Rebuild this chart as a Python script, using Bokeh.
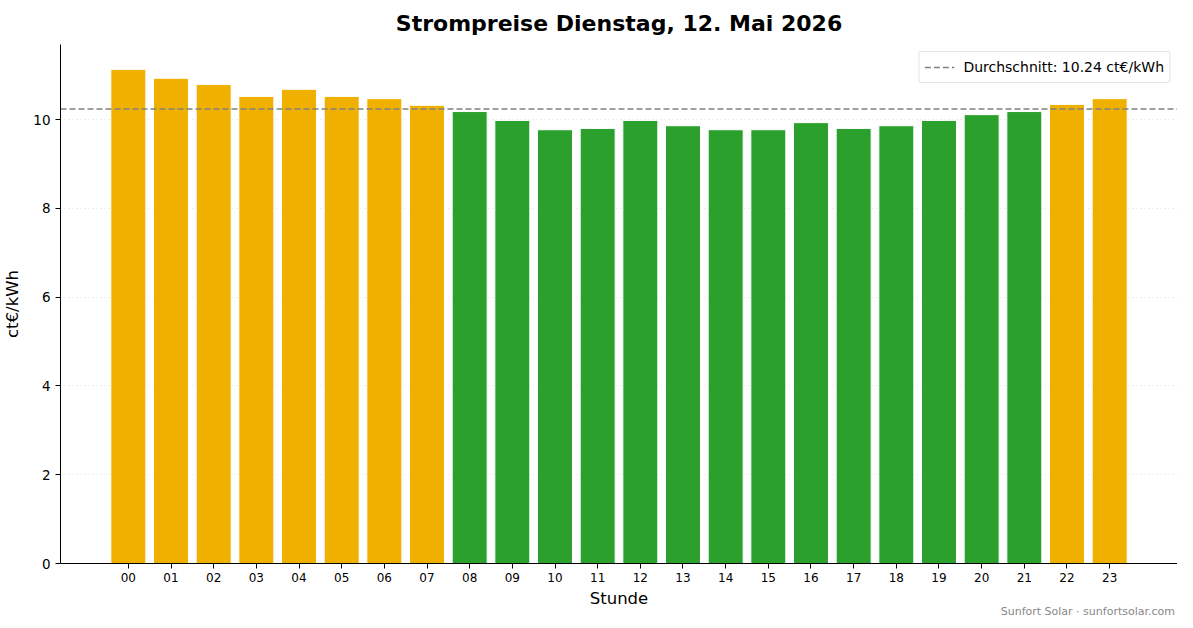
from bokeh.plotting import figure
from bokeh.models import Range1d, FixedTicker, Legend, LegendItem, Div
from bokeh.layouts import column
from bokeh.embed import file_html
from bokeh.resources import INLINE

# hourly prices in ct/kWh
hours = ["00", "01", "02", "03", "04", "05", "06", "07", "08", "09", "10", "11",
         "12", "13", "14", "15", "16", "17", "18", "19", "20", "21", "22", "23"]
prices = [11.13, 10.93, 10.79, 10.52, 10.68, 10.52, 10.47, 10.32, 10.18, 9.98, 9.77, 9.80,
          9.98, 9.86, 9.77, 9.77, 9.93, 9.80, 9.86, 9.98, 10.11, 10.18, 10.34, 10.47]
average = 10.24
y_ticks = [0, 2, 4, 6, 8, 10]

HIGH = "#f0b000"
LOW = "#2ca02c"
FONT = "DejaVu Sans"

xs = list(range(len(hours)))
colors = [HIGH if v > average else LOW for v in prices]

x_lo, x_hi = -1.59, len(hours) - 1 + 1.59

p = figure(width=1177, height=610, output_backend="svg", toolbar_location=None,
           x_range=Range1d(x_lo, x_hi), y_range=Range1d(0, 11.69),
           min_border_left=53, min_border_right=0, min_border_top=10, min_border_bottom=40)

p.title.text = "Strompreise Dienstag, 12. Mai 2026"
p.title.align = "center"
p.title.text_font = FONT
p.title.text_font_size = "22px"
p.title.text_font_style = "bold"
p.title.text_color = "black"
p.title.standoff = 17

p.vbar(x=xs, top=prices, width=0.82, fill_color=colors, line_color="white", line_width=1)

# average line, also used as the legend glyph
avg = p.line(x=[x_lo, x_hi], y=[average, average], line_color="#808080",
             line_dash="6 3", line_width=1.5)

p.outline_line_color = None
p.xgrid.grid_line_color = None
p.ygrid.grid_line_color = "#dddddd"
p.ygrid.grid_line_dash = "1 3"
p.ygrid.ticker = FixedTicker(ticks=y_ticks)

p.xaxis.ticker = FixedTicker(ticks=xs)
p.xaxis.major_label_overrides = {i: h for i, h in enumerate(hours)}
p.yaxis.ticker = FixedTicker(ticks=y_ticks)
p.xaxis.axis_label = "Stunde"
p.yaxis.axis_label = "ct€/kWh"
for ax in (p.xaxis, p.yaxis):
    ax.axis_label_text_font = FONT
    ax.axis_label_text_font_size = "16.5px"
    ax.axis_label_text_font_style = "normal"
    ax.axis_label_text_color = "black"
    ax.major_label_text_font = FONT
    ax.major_label_text_color = "black"
    ax.minor_tick_line_color = None
    ax.major_tick_in = 0
    ax.major_tick_out = 5
    ax.axis_line_color = "black"
p.xaxis.major_label_text_font_size = "12px"
p.yaxis.major_label_text_font_size = "13.5px"
p.xaxis.major_label_standoff = 4
p.xaxis.axis_label_standoff = 4
p.yaxis.axis_label_standoff = 8

legend = Legend(items=[LegendItem(label="Durchschnitt: 10.24 ct€/kWh", renderers=[avg])],
                location="top_right", label_text_font=FONT, label_text_font_size="14px",
                label_text_color="black",
                border_line_color="#cccccc", border_radius=3, glyph_width=30,
                label_standoff=9, padding=5, margin=7, spacing=0)
p.add_layout(legend)

credit = Div(text="Sunfort Solar · sunfortsolar.com", width=1175, height=14, margin=(-12, 0, 0, 0),
             styles={"text-align": "right", "color": "#888888", "font-family": FONT,
                     "font-size": "11px", "line-height": "14px", "padding-top": "7px"})

page = column(p, credit, spacing=0)

open("out.html", "w").write(file_html(page, INLINE))
